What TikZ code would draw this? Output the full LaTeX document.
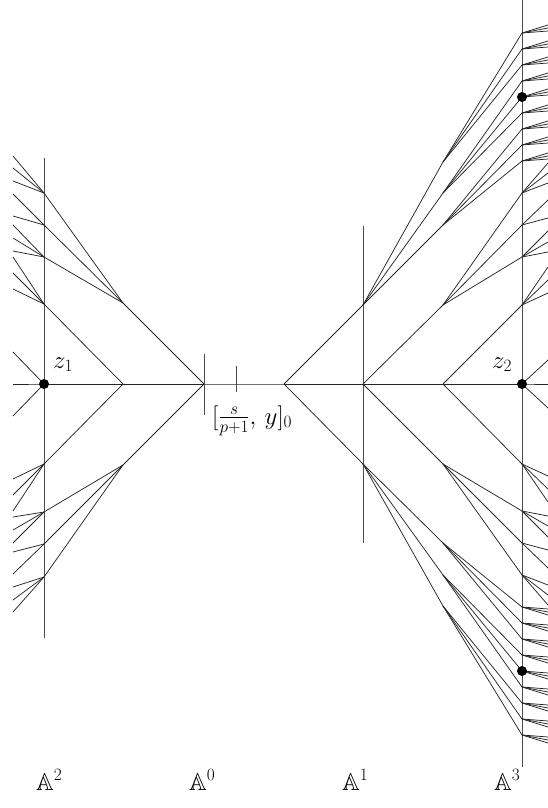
\documentclass[tikz,border=0pt]{standalone}
\usepackage{amssymb}
\begin{document}
\begin{tikzpicture}[x=1pt,y=-1pt,
  edge/.style={line width=0.75pt,black!85},
  axisline/.style={line width=0.9pt,black!70},
  dotv/.style={circle,fill=black,inner sep=0pt,minimum size=10pt},
  lab/.style={font=\fontsize{24.5}{29}\selectfont,inner sep=0pt}]
\useasboundingbox (0,0) rectangle (547,808);
% axes
\coordinate (A2t) at (44,158);  \coordinate (A2b) at (44,638);
\coordinate (A0t) at (204,354); \coordinate (A0b) at (204,415);
\coordinate (Tkt) at (236,366); \coordinate (Tkb) at (236,392);
\coordinate (A1t) at (363,226); \coordinate (A1b) at (363,543);
\coordinate (A3t) at (522,0);   \coordinate (A3b) at (522,767);
\draw[axisline] (A2t) -- (A2b);
\draw[axisline] (A0t) -- (A0b);
\draw[axisline] (Tkt) -- (Tkb);
\draw[axisline] (A1t) -- (A1b);
\draw[axisline] (A3t) -- (A3b);
% left tree
\coordinate (L) at (204,384);
\coordinate (La) at (123,303); \coordinate (Lb) at (123,384); \coordinate (Lc) at (123,465);
\coordinate (La1) at (44,193); \coordinate (La2) at (44,225); \coordinate (La3) at (44,257);
\coordinate (Lb1) at (44,304); \coordinate (Lb2) at (44,384); \coordinate (Lb3) at (44,464);
\coordinate (Lc1) at (44,512); \coordinate (Lc2) at (44,544); \coordinate (Lc3) at (44,577);
\foreach \p in {a,b,c} {
  \draw[edge] (L) -- (L\p);
  \foreach \k in {1,2,3} \draw[edge] (L\p) -- (L\p\k);
}
\foreach \v/\ys in {La1/{156,168,181},La2/{194,216},La3/{225,238,251},
                    Lb1/{257,273,289},Lb2/{352,416},Lb3/{479,495,511},
                    Lc1/{517,530,543},Lc2/{552,574},Lc3/{587,600,612}} {
  \foreach \y in \ys {
    \coordinate (\v-\y) at (13,\y);
    \draw[edge] (\v) -- (\v-\y);
  }
}
% right tree
\coordinate (R) at (284,384);
\coordinate (Ra) at (363,305); \coordinate (Rb) at (363,384); \coordinate (Rc) at (363,464);
\coordinate (Ra1) at (443,162); \coordinate (Ra2) at (443,193); \coordinate (Ra3) at (443,225);
\coordinate (Rb1) at (443,305); \coordinate (Rb2) at (443,384); \coordinate (Rb3) at (443,464);
\coordinate (Rc1) at (443,543); \coordinate (Rc2) at (443,575); \coordinate (Rc3) at (443,606);
\foreach \p in {a,b,c} {
  \draw[edge] (R) -- (R\p);
  \foreach \k in {1,2,3} \draw[edge] (R\p) -- (R\p\k);
}
% third level on A^3
\foreach \v/\ys in {Ra1/{33,49,65},Ra2/{81,97,113},Ra3/{129,145,161},
                    Rb1/{193,225,257},Rb2/{305,384,464},Rb3/{511,543,575},
                    Rc1/{607,623,639},Rc2/{655,671,687},Rc3/{703,719,735}} {
  \foreach \y in \ys {
    \coordinate (\v-\y) at (522,\y);
    \draw[edge] (\v) -- (\v-\y);
  }
}
% leaves on the right of A^3
\foreach \y/\ds in {33/{-8,-5,-2},49/{-8,-5,-2},65/{-8,-5,-2},81/{-8,-5,-2},97/{-8,-5,-2},
                    113/{-8,-5,-2},129/{-8,-5,-2},145/{-8,-5,-2},161/{-8,-5,-2},
                    193/{-30,-20,-10},225/{-25,-7},257/{-26,-15,-5},
                    305/{-38,-25,-12},384/{-24,24},464/{12,25,38},
                    511/{5,15,26},543/{7,25},575/{10,20,30},
                    607/{2,5,8},623/{2,5,8},639/{2,5,8},655/{2,5,8},671/{2,5,8},
                    687/{2,5,8},703/{2,5,8},719/{2,5,8},735/{2,5,8}} {
  \coordinate (V\y) at (522,\y);
  \foreach \d in \ds {
    \path (V\y) ++(26,\d) coordinate (W\y x\d);
    \draw[edge] (V\y) -- (W\y x\d);
  }
}
% horizontal apartment
\coordinate (Hl) at (13,384); \coordinate (Hr) at (548,384);
\draw[edge] (Hl) -- (Lb2) -- (Lb) -- (L) -- (R) -- (Rb) -- (Rb2) -- (Rb2-384) -- (Hr);
% dots
\node[dotv] (z1) at (Lb2) {};
\node[dotv] (z2) at (Rb2-384) {};
\node[dotv] (d1) at (Ra2-97) {};
\node[dotv] (d2) at (Rc2-671) {};
% labels
\node[lab,anchor=base west] (lz1) at (53,368) {$z_1$};
\node[lab,anchor=base west] (lz2) at (492,368) {$z_2$};
\node[lab,anchor=base west] (lpt) at (212,424) {$[\frac{s}{p+1},\, y]_0$};
\node[lab,anchor=base west] (nA2) at (36,790) {$\mathbb{A}^2$};
\node[lab,anchor=base west] (nA0) at (189,790) {$\mathbb{A}^0$};
\node[lab,anchor=base west] (nA1) at (342,790) {$\mathbb{A}^1$};
\node[lab,anchor=base west] (nA3) at (494,790) {$\mathbb{A}^3$};
\end{tikzpicture}
\end{document}
